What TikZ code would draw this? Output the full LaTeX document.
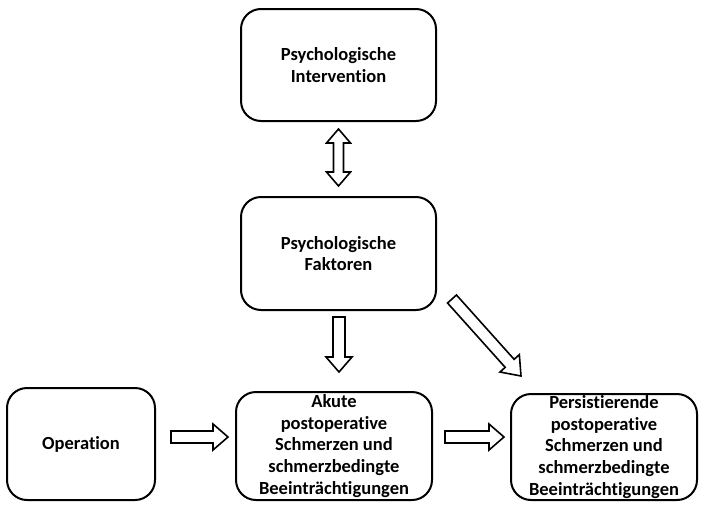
\documentclass[tikz,border=0pt]{standalone}
\usepackage{fontspec}
\setmainfont{Carlito}[Ligatures=NoCommon]
\usetikzlibrary{calc}
\newcommand\blockarr[5]{%
 \coordinate (ba-c) at ($(#2)!#5!(#1)$);
 \draw[arr] ($(#1)!#3!90:(#2)$) -- ($(ba-c)!#3!90:(#2)$) -- ($(ba-c)!#4!90:(#2)$) -- (#2) -- ($(ba-c)!#4!-90:(#2)$) -- ($(ba-c)!#3!-90:(#2)$) -- ($(#1)!#3!-90:(#2)$) -- cycle;
}
\newcommand\dblarr[5]{%
 \coordinate (ba-c) at ($(#2)!#5!(#1)$);
 \coordinate (ba-d) at ($(#1)!#5!(#2)$);
 \draw[arr] (#1) -- ($(ba-d)!#4!90:(#2)$) -- ($(ba-d)!#3!90:(#2)$) -- ($(ba-c)!#3!90:(#2)$) -- ($(ba-c)!#4!90:(#2)$) -- (#2) -- ($(ba-c)!#4!-90:(#2)$) -- ($(ba-c)!#3!-90:(#2)$) -- ($(ba-d)!#3!-90:(#2)$) -- ($(ba-d)!#4!-90:(#2)$) -- cycle;
}
\tikzset{
 box/.style={draw, line width=2pt, rounded corners=20pt, align=center, inner sep=0pt,
   font=\fontsize{18.5}{21.8}\selectfont\bfseries},
 arr/.style={draw, fill=white, line width=1.6pt, line join=miter}
}
\begin{document}
\begin{tikzpicture}[x=1pt,y=1pt]
\useasboundingbox (0,0) rectangle (701,-506);
\node[box, minimum width=195pt, minimum height=112pt] (int) at (338.5,-65) {Psychologische\\Intervention};
\node[box, minimum width=195pt, minimum height=113pt] (fak) at (338.5,-253.5) {Psychologische\\Faktoren};
\node[box, minimum width=148pt, minimum height=112pt] (op) at (81,-444) {Operation};
\node[box, minimum width=196pt, minimum height=108pt] (ak) at (334,-446) {Akute\\postoperative\\Schmerzen und\\schmerzbedingte\\Beeinträchtigungen};
\node[box, minimum width=186pt, minimum height=106pt] (pe) at (604,-447) {Persistierende\\postoperative\\Schmerzen und\\schmerzbedingte\\Beeinträchtigungen};
\coordinate (d1) at ($(int.south)+(0,-7)$);
\coordinate (d2) at ($(fak.north)+(0,10)$);
\coordinate (v1) at ($(fak.south)+(0.5,-6)$);
\coordinate (v2) at ($(ak.north)+(5,19)$);
\coordinate (g1) at (452,-299);
\coordinate (g2) at (521,-376);
\coordinate (h1) at ($(op.east)+(15,7)$);
\coordinate (h2) at ($(ak.west)+(-7,9)$);
\coordinate (k1) at ($(ak.east)+(12,9)$);
\coordinate (k2) at ($(pe.west)+(-6,10)$);
\dblarr{d1}{d2}{5pt}{12pt}{14pt}
\blockarr{v1}{v2}{6pt}{13pt}{15pt}
\blockarr{g1}{g2}{6pt}{13pt}{17pt}
\blockarr{h1}{h2}{6pt}{13pt}{15pt}
\blockarr{k1}{k2}{6pt}{13pt}{15pt}
\end{tikzpicture}
\end{document}
